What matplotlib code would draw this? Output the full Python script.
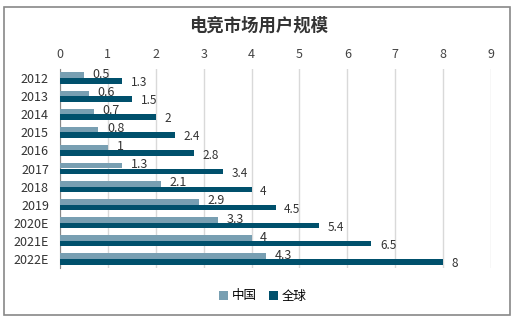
import matplotlib
matplotlib.use("Agg")
import matplotlib.pyplot as plt
import numpy as np
from matplotlib.patches import Rectangle

plt.rcParams['font.family'] = ['Noto Sans CJK SC', 'DejaVu Sans']

years = ["2012", "2013", "2014", "2015", "2016", "2017", "2018", "2019", "2020E", "2021E", "2022E"]
china = [0.5, 0.6, 0.7, 0.8, 1, 1.3, 2.1, 2.9, 3.3, 4, 4.3]
world = [1.3, 1.5, 2, 2.4, 2.8, 3.4, 4, 4.5, 5.4, 6.5, 8]

c_china = "#789fb2"
c_world = "#00506c"
W, H = 518, 322

fig = plt.figure(figsize=(W / 100, H / 100), dpi=100)
fig.patches.append(Rectangle((4 / W, 7 / H), 506 / W, 308 / H, transform=fig.transFigure,
                             fill=False, edgecolor="#888888", linewidth=1.2))

ax = fig.add_axes([60 / W, (H - 268) / H, (491 - 60) / W, (268 - 69) / H])
y = np.arange(len(years))
h = 0.31
ax.barh(y - h / 2, china, height=h, color=c_china, label="中国", zorder=3)
ax.barh(y + h / 2, world, height=h, color=c_world, label="全球", zorder=3)

for i in range(len(years)):
    ax.text(china[i] + 0.18, y[i] - h / 2 - 0.05, f"{china[i]:g}", va="center", ha="left",
            fontsize=9, color="#333333")
    ax.text(world[i] + 0.18, y[i] + h / 2 + 0.1, f"{world[i]:g}", va="center", ha="left",
            fontsize=8.5, color="#333333")

ax.set_xlim(0, 9)
ax.set_ylim(len(years) - 0.5, -0.5)
ax.set_xticks(range(10))
ax.set_yticks(y)
ax.set_yticklabels(years)
ax.xaxis.tick_top()
ax.tick_params(axis="x", length=0, pad=6, labelsize=9, labelcolor="#444444")
ax.tick_params(axis="y", length=0, pad=8, labelsize=9, labelcolor="#333333")
ax.grid(axis="x", color="#d9d9d9", linewidth=1, zorder=0)
for s in ["top", "right", "bottom"]:
    ax.spines[s].set_visible(False)
ax.spines["left"].set_color("#888888")

fig.text(0.5, (H - 26) / H, "电竞市场用户规模", ha="center", va="center", fontsize=12.5,
         fontweight="bold", color="#333333")
fig.legend(loc="center", bbox_to_anchor=(263 / W, (H - 296) / H), ncol=2, frameon=False,
           fontsize=9, handlelength=0.7, handleheight=0.7, columnspacing=1.0, handletextpad=0.3)

fig.savefig("out.png", dpi=100)
